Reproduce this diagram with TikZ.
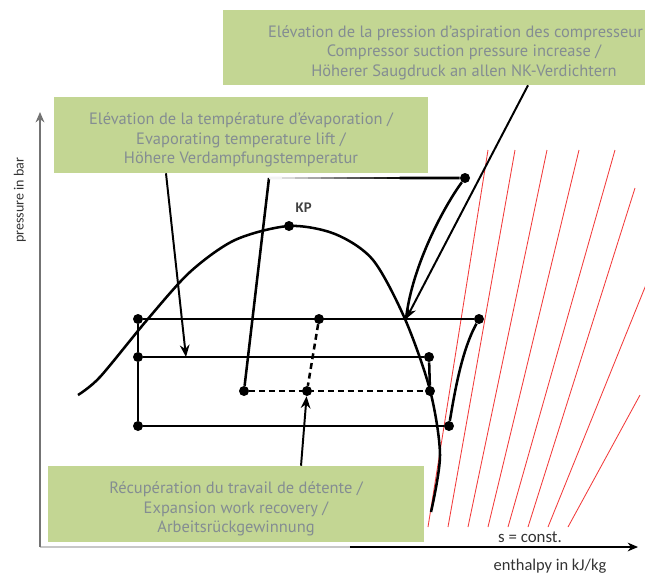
\documentclass[tikz,border=0pt]{standalone}
\usepackage{fontspec}
\setmainfont{PT Sans}
\newfontfamily\labelfont{Carlito}
\usepackage{tikz}
\usetikzlibrary{arrows.meta, positioning, calc}
\definecolor{notegreen}{HTML}{C3D693}
\definecolor{notegray}{HTML}{848D92}
\definecolor{isored}{HTML}{F23A3A}
\newcommand{\topgap}{\rule{0pt}{15.8pt}}

\begin{document}
\begin{tikzpicture}[
  x=0.025cm, y=-0.025cm,
  note/.style={rectangle, fill=notegreen, text=notegray, align=center,
    font=\fontsize{11.7}{13.9}\selectfont, inner sep=0pt},
  dot/.style={circle, fill=black, inner sep=0pt, minimum size=0.25cm},
  cyc/.style={line width=1.8pt, line join=round},
  dashcyc/.style={cyc, dash pattern=on 4.2pt off 2.8pt},
  arr/.style={-{Stealth[length=3mm, width=2.4mm]}, line width=1.4pt},
  isoline/.style={isored, line width=0.6pt},
  axis/.style={-{Stealth[length=2.6mm, width=2.2mm]}, line width=0.9pt},
  lbl/.style={font=\labelfont\fontsize{10}{12}\selectfont, text=black!80},
]
  \useasboundingbox (0,0) rectangle (645,575);
  \clip (0,0) rectangle (645,575);

  % axes
  \coordinate (origin) at (40,547);
  \coordinate (xmid) at (350,547);
  \coordinate (xend) at (638,547);
  \coordinate (yend) at (40,112);
  \draw[line width=0.9pt, black!22] (origin) -- (xmid);
  \draw[axis] (xmid) -- (xend);
  \draw[axis, black!55] (origin) -- (yend);
  \node[lbl, rotate=90] (ylabel) at (20,200) {pressure in bar};
  \node[lbl, font=\labelfont\fontsize{11.7}{13}\selectfont] (xlabel) at (550,566) {enthalpy in kJ/kg};
  \node[lbl, font=\labelfont\fontsize{12}{13}\selectfont] (slabel) at (530,537) {s = const.};

  % isentropes
  \foreach \xa/\xb/\yb in {428/488/150, 448/515/150, 468/547/150, 488/579/150,
      508/615/150, 528/635/188, 548/654/265, 568/640/395}
    \draw[isoline] (\xa,527) -- (\xb,\yb);

  % saturation dome
  \draw[cyc] plot[smooth] coordinates {(78,395) (100,377) (147,320) (190,272)
    (235,240) (289,226) (335,234) (373,260) (405,319) (430,390) (440,455) (431,512)};
  \node[dot] (kp) at (289,226) {};
  \node[lbl, font=\labelfont\bfseries\fontsize{10.5}{12}\selectfont, text=black!75,
    above right=0.12cm and -0.05cm of kp] (kplabel) {KP};

  \node[dot] (a1) at (138,319) {};
  \node[dot] (a2) at (319,319) {};
  \node[dot] (a3) at (479,319) {};
  \node[dot] (b1) at (138,357) {};
  \node[dot] (b2) at (429,357) {};
  \node[dot] (c1) at (244,391) {};
  \node[dot] (c2) at (307,391) {};
  \node[dot] (c3) at (430,391) {};
  \node[dot] (d1) at (138,426) {};
  \node[dot] (d2) at (449,426) {};
  \node[dot] (t2) at (465,178) {};
  \coordinate (t1) at (269,178);
  \coordinate (suct) at (406,319);
  \coordinate (evap) at (186,357);

  \draw[cyc] (a1) -- (a3);
  \draw[cyc] (b1) -- (b2);
  \draw[cyc] (d1) -- (d2);
  \draw[cyc] (a1) -- (b1) -- (d1);
  \draw[cyc] (b2) -- (c3);
  \draw[dashcyc] (c1) -- (c3);
  \draw[dashcyc] (a2) -- (c2);
  \draw[cyc] (c1) -- (t1);
  \foreach \i/\c in {0/5, 1/15, 2/25, 3/35, 4/45, 5/55, 6/65, 7/75, 8/85, 9/95}
    \draw[line width=1.8pt, black!\c] ($(t1)!{\i/15}!(t2)$) -- ($(t1)!{(\i+1)/15}!(t2)$);
  \draw[cyc] ($(t1)!{10/15}!(t2)$) -- (t2);
  \draw[cyc] (t2) .. controls (445,205) and (412,265) .. (suct);
  \draw[cyc] (a3) .. controls (462,350) and (455,390) .. (d2);

  \node[note, minimum width=12.05cm, minimum height=1.875cm] (suctbox) at (464,47.5)
    {\topgap Elévation de la pression d'aspiration des compresseur\phantom{s /}\\
     Compressor suction pressure increase /\\ Höherer Saugdruck an allen NK-Verdichtern};
  \node[note, minimum width=9.35cm, minimum height=1.9cm] (evapbox) at (241,135)
    {\topgap Elévation de la température d'évaporation /\\ Evaporating temperature lift /\\
     Höhere Verdampfungstemperatur};
  \node[note, minimum width=9.4cm, minimum height=1.9cm] (expbox) at (236,504)
    {\topgap Récupération du travail de détente /\\ Expansion work recovery /\\
     Arbeitsrückgewinnung};

  \draw[arr] ([xshift=1.6cm]suctbox.south) -- (suct);
  \draw[arr] ([xshift=-1.875cm]evapbox.south) -- (evap);
  \draw[arr] ([xshift=1.625cm]expbox.north) -- (c2);
\end{tikzpicture}
\end{document}
